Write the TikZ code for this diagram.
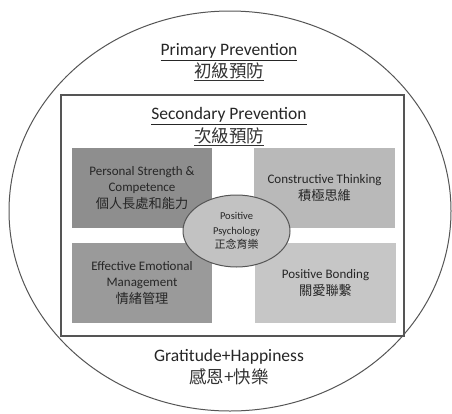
\documentclass[tikz,border=0pt]{standalone}
\usepackage{fontspec}
\setmainfont{Carlito}
\newfontfamily\cjk{Noto Sans CJK TC}
\usetikzlibrary{shapes.geometric}
\definecolor{tlgray}{HTML}{8E8E8E}
\definecolor{blgray}{HTML}{9A9A9A}
\definecolor{trgray}{HTML}{B9B9B9}
\definecolor{brgray}{HTML}{C6C6C6}
\definecolor{ovgray}{HTML}{C2C2C2}
\definecolor{linegray}{HTML}{555555}
\newcommand{\cjkbox}{\cjk\fontsize{13.2}{16}\selectfont}
\tikzset{
  quad/.style={draw=none, minimum width=140pt, minimum height=80pt, inner sep=0pt,
    align=center, font=\fontsize{13}{16.5}\selectfont, text=black!85},
  title/.style={inner sep=0pt, font=\fontsize{17.5}{20}\selectfont, text=black!85},
  ctitle/.style={inner sep=0pt, font=\cjk\fontsize{17.5}{20}\selectfont, text=black!80},
}
\begin{document}
\begin{tikzpicture}[x=1pt,y=-1pt]
\useasboundingbox (0,0) rectangle (452,413);
\fill[white] (0,0) rectangle (452,413);
\node[draw=linegray, line width=1pt, ellipse, minimum width=442pt, minimum height=400pt, inner sep=0pt] (outer) at (230,211) {};
\node[draw=linegray, line width=1.3pt, minimum width=343pt, minimum height=241pt, inner sep=0pt] (inner) at (232.5,215.5) {};
\node[title] (primary) at (229,52) {\underline{Primary Prevention}};
\node[ctitle] (primaryc) at (229,72) {\underline{初級預防}};
\node[title] (secondary) at (229,116) {\underline{Secondary Prevention}};
\node[ctitle] (secondaryc) at (229,137) {\underline{次級預防}};
\node[quad, fill=tlgray] (tl) at (142,188) {Personal Strength \&\\Competence\\{\cjkbox 個人長處和能力}};
\node[quad, fill=trgray, minimum width=141pt] (tr) at (324.5,188) {Constructive Thinking\\{\cjkbox 積極思維}};
\node[quad, fill=blgray] (bl) at (142,283) {Effective Emotional\\Management\\{\cjkbox 情緒管理}};
\node[quad, fill=brgray, minimum width=141pt] (br) at (325.5,283) {Positive Bonding\\{\cjkbox 關愛聯繫}};
\node[ellipse, draw=linegray, line width=1pt, fill=ovgray, minimum width=107pt, minimum height=72pt, inner sep=0pt, align=center, font=\fontsize{10.5}{14.5}\selectfont, text=black!85] (pp) at (236.5,231) {Positive\\Psychology\\{\cjk\fontsize{11}{14}\selectfont 正念育樂}};
\node[title] (grat) at (229,357) {Gratitude+Happiness};
\node[ctitle] (gratc) at (229,377) {感恩+快樂};
\end{tikzpicture}
\end{document}
